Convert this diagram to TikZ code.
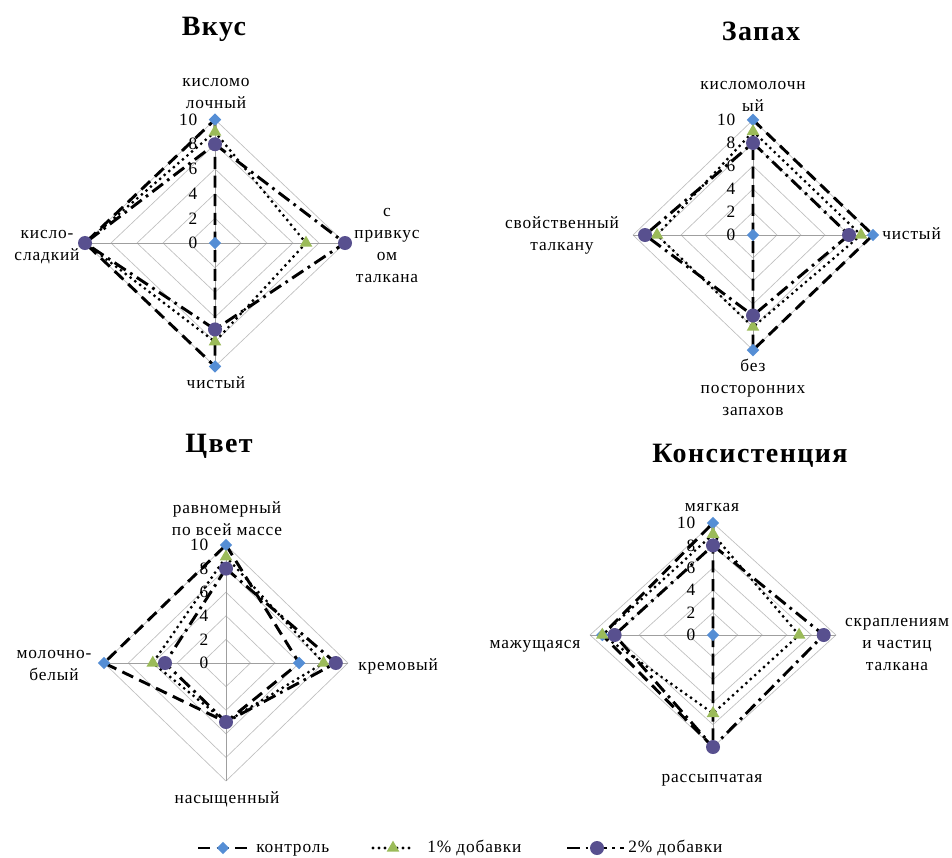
\documentclass[tikz,border=0pt]{standalone}
\usepackage{fontspec}
\setmainfont{Liberation Serif}[LetterSpace=5]
\usetikzlibrary{shapes.geometric}

\definecolor{ctrlblue}{RGB}{85,142,213}
\definecolor{onegreen}{RGB}{155,187,89}
\definecolor{twoviolet}{RGB}{88,80,143}

\newcommand{\lblsize}{\fontsize{13}{16.5}\selectfont}
\newcommand{\ttlsize}{\fontsize{21}{24}\selectfont}

\tikzset{
  ring/.style={draw=gray!50, line width=0.5pt},
  spoke/.style={draw=gray!75, line width=0.6pt},
  numlbl/.style={anchor=east, inner sep=0pt, xshift=-13pt, font=\lblsize},
  lbl/.style={align=center, inner sep=0pt, anchor=base, font=\lblsize},
  ttl/.style={anchor=base, inner sep=0pt, font=\ttlsize\bfseries},
  ctrlline/.style={black, line width=2.2pt, dash pattern=on 9pt off 5pt},
  oneline/.style={black, line width=2.4pt, line cap=round, dash pattern=on 0pt off 4.5pt},
  twoline/.style={black, line width=2.2pt, dash pattern=on 10pt off 4pt on 2pt off 4pt},
  dmark/.style={diamond, fill=ctrlblue, inner sep=0pt, minimum size=9.5pt},
  tmark/.style={regular polygon, regular polygon sides=3, fill=onegreen, inner sep=0pt, minimum size=11pt},
  cmark/.style={circle, fill=twoviolet, inner sep=0pt, minimum size=10.5pt},
}

% rings, spokes and scale numbers of one radar
\newcommand{\radargrid}[1]{%
  \foreach \r in {2,4,...,10}
    \draw[ring] (0,\r) -- (\r,0) -- (0,-\r) -- (-\r,0) -- cycle;
  \draw[spoke] (0,-10) -- (0,10) (-10,0) -- (10,0);
  \foreach \r in {0,2,...,10}
    \node[numlbl] (#1-n\r) at (0,\r) {\r};
}

% one series: top, right, bottom, left
\newcommand{\radarline}[7]{%
  \coordinate (#1a) at (0,#4);
  \coordinate (#1b) at (#5,0);
  \coordinate (#1c) at (0,-#6);
  \coordinate (#1d) at (-#7,0);
  \draw[#2] (#1a) -- (#1b) -- (#1c) -- (#1d) -- cycle;
  \foreach \p in {a,b,c,d}
    \node[#3] (#1\p-m) at (#1\p) {};
}

\begin{document}
\begin{tikzpicture}[x=0.75pt, y=-0.75pt]
\useasboundingbox (0,0) rectangle (952,857);

% Вкус
\node[ttl] (vk-title) at (214,35) {Вкус};
\begin{scope}[shift={(215,243)}, x=9.75pt, y=9.26pt]
  \radargrid{vk}
  \radarline{vk-k}{ctrlline}{dmark}{10}{0}{10}{10}
  \radarline{vk-o}{oneline}{tmark}{9}{7}{8}{10}
  \radarline{vk-t}{twoline}{cmark}{8}{10}{7}{10}
\end{scope}
\node[lbl] (vk-l1) at (216,108) {кисломо\\лочный};
\node[lbl] (vk-l2) at (387,282) {с\\привкус\\ом\\талкана};
\node[lbl] (vk-l3) at (216,388) {чистый};
\node[lbl] (vk-l4) at (47,260) {кисло-\\сладкий};

% Запах
\node[ttl] (zp-title) at (761,40) {Запах};
\begin{scope}[shift={(753,235)}, x=9pt, y=8.63pt]
  \radargrid{zp}
  \radarline{zp-k}{ctrlline}{dmark}{10}{10}{10}{0}
  \radarline{zp-o}{oneline}{tmark}{9}{9}{8}{8}
  \radarline{zp-t}{twoline}{cmark}{8}{8}{7}{9}
\end{scope}
\node[lbl] (zp-l1) at (753,111) {кисломолочн\\ый};
\node[lbl, anchor=base west] (zp-l2) at (882,239) {чистый};
\node[lbl] (zp-l3) at (753,415) {без\\посторонних\\запахов};
\node[lbl] (zp-l4) at (562,250) {свойственный\\талкану};

% Цвет
\node[ttl] (cv-title) at (219,452) {Цвет};
\begin{scope}[shift={(226,663)}, x=9.15pt, y=8.85pt]
  \radargrid{cv}
  \radarline{cv-k}{ctrlline}{dmark}{10}{6}{5}{10}
  \radarline{cv-o}{oneline}{tmark}{9}{8}{5}{6}
  \radarline{cv-t}{twoline}{cmark}{8}{9}{5}{5}
\end{scope}
\node[lbl] (cv-l1) at (227,535) {равномерный\\по всей массе};
\node[lbl, anchor=base west] (cv-l2) at (358,670) {кремовый};
\node[lbl] (cv-l3) at (227,803) {насыщенный};
\node[lbl] (cv-l4) at (54,680) {молочно-\\белый};

% Консистенция
\node[ttl] (ks-title) at (750,462) {Консистенция};
\begin{scope}[shift={(713,635)}, x=9.225pt, y=8.4pt]
  \radargrid{ks}
  \radarline{ks-k}{ctrlline}{dmark}{10}{0}{10}{9}
  \radarline{ks-o}{oneline}{tmark}{9}{7}{7}{9}
  \radarline{ks-t}{twoline}{cmark}{8}{9}{10}{8}
\end{scope}
\node[lbl] (ks-l1) at (712,511) {мягкая};
\node[lbl] (ks-l2) at (897,670) {скраплениям\\и частиц\\талкана};
\node[lbl] (ks-l3) at (712,782) {рассыпчатая};
\node[lbl] (ks-l4) at (535,648) {мажущаяся};

% legend
\coordinate (lg-ka) at (198,848);
\coordinate (lg-kb) at (247,848);
\draw[ctrlline] (lg-ka) -- (lg-kb);
\node[dmark] (lg-km) at (223,848) {};
\node[lbl, anchor=base west] (lg-kt) at (256,852) {контроль};
\coordinate (lg-oa) at (373,848);
\coordinate (lg-ob) at (414,848);
\draw[oneline] (lg-oa) -- (lg-ob);
\node[tmark] (lg-om) at (393,848) {};
\node[lbl, anchor=base west] (lg-ot) at (427,852) {1\% добавки};
\coordinate (lg-ta) at (567,848);
\coordinate (lg-tb) at (624,848);
\draw[twoline] (lg-ta) -- (lg-tb);
\node[cmark] (lg-tm) at (597,848) {};
\node[lbl, anchor=base west] (lg-tt) at (628,852) {2\% добавки};
\end{tikzpicture}
\end{document}
